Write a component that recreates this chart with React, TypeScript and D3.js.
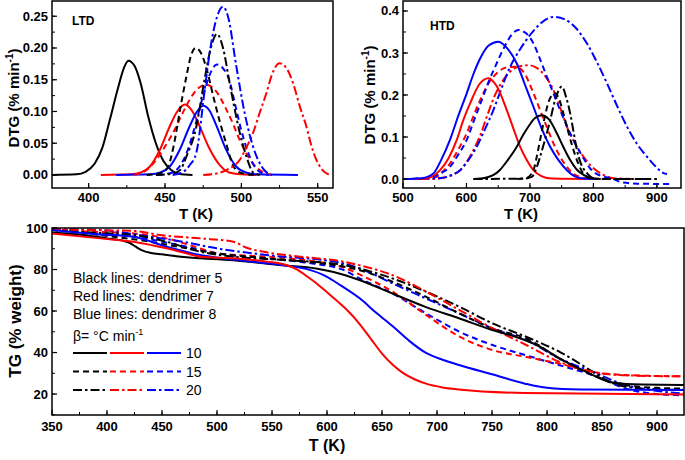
import React from "react";
import * as d3 from "d3";

type P = [number, number];

// ---------------- LTD (top-left) DTG data: [T (K), DTG] ----------------
const ltdBlack10: P[] = [[376,0],[392,0.001],[398,0.005],[404,0.018],[409,0.043],[414,0.088],[419,0.135],[423,0.168],[426,0.18],[430,0.172],[434,0.145],[439,0.092],[444,0.05],[449,0.022],[454,0.008],[459,0.002],[468,0]];
const ltdRed10: P[] = [[408,0],[428,0.001],[434,0.004],[440,0.013],[446.5,0.039],[453,0.076],[458,0.1],[463,0.111],[468,0.1],[473,0.075],[479,0.042],[486,0.015],[492,0.004],[500,0.001],[510,0]];
const ltdBlue10: P[] = [[418,0],[440,0.001],[447,0.004],[453,0.013],[459.5,0.039],[466,0.076],[471,0.1],[475,0.109],[479,0.102],[483.6,0.078],[490,0.04],[496.7,0.013],[503,0.004],[510,0.001],[537,0]];
const ltdBlack15: P[] = [[438,0],[447,0.003],[452,0.013],[456,0.05],[460,0.105],[464,0.155],[467,0.188],[470,0.2],[474,0.19],[478,0.16],[482,0.12],[486,0.083],[490,0.05],[494,0.018],[498,0.005],[504,0.001],[511,0]];
const ltdRed15: P[] = [[430,0],[438,0.008],[444.3,0.024],[450,0.045],[455.2,0.066],[461,0.095],[466,0.118],[471,0.135],[477,0.142],[484,0.13],[490.2,0.103],[495,0.078],[498.9,0.055],[503,0.035],[507.6,0.018],[513,0.006],[520,0]];
const ltdBlue15: P[] = [[445,0],[455,0.004],[460,0.015],[465,0.04],[470,0.08],[475,0.125],[480,0.162],[484,0.174],[488,0.168],[492,0.15],[496,0.11],[500,0.07],[504,0.038],[508,0.016],[512,0.005],[518,0]];
const ltdBlack20: P[] = [[444,0],[455,0.002],[460,0.008],[464,0.029],[470.5,0.076],[475.5,0.145],[480,0.2],[484,0.222],[488,0.2],[492.3,0.145],[499,0.066],[503.3,0.029],[507.7,0.004],[512,0]];
const ltdRed20: P[] = [[475,0],[485,0.003],[492,0.01],[499,0.024],[503,0.042],[507.6,0.066],[512,0.098],[516.4,0.129],[520,0.158],[525,0.176],[529,0.17],[533.8,0.145],[538,0.11],[542.6,0.076],[546,0.045],[549.1,0.024],[553,0.008],[558,0]];
const ltdBlue20: P[] = [[455,0],[462,0.005],[466,0.015],[470.5,0.035],[476,0.134],[479.2,0.192],[483,0.24],[488,0.265],[491.2,0.25],[496.7,0.171],[502.2,0.097],[507.6,0.045],[514.2,0.01],[520,0]];

// ---------------- HTD (top-right) DTG data ----------------
const htdRed10: P[] = [[500,0],[530,0],[545,0.005],[558.4,0.021],[572,0.05],[584.7,0.093],[595,0.14],[605.7,0.18],[620,0.225],[634.6,0.24],[648,0.22],[663.5,0.164],[674,0.12],[684.5,0.077],[695,0.045],[705.5,0.021],[718,0.007],[735,0.001],[800,0]];
const htdBlue10: P[] = [[500,0],[530,0.002],[547.8,0.013],[560,0.045],[574,0.093],[587,0.15],[600.4,0.204],[611,0.25],[621.5,0.287],[635,0.318],[650.4,0.327],[665,0.31],[679.3,0.275],[692,0.225],[705.5,0.172],[718,0.122],[731.9,0.077],[745,0.045],[758.2,0.021],[770,0.007],[785,0.001],[810,0]];
const htdBlack10: P[] = [[611,0],[630,0.003],[642,0.009],[652.3,0.021],[665,0.045],[679.3,0.077],[689,0.104],[697.7,0.125],[708,0.145],[718.7,0.152],[730,0.142],[742.4,0.109],[753,0.075],[763.4,0.045],[774,0.022],[784.5,0.01],[795,0.003],[810,0]];
const htdRed15: P[] = [[500,0],[540,0.001],[553,0.005],[563,0.018],[574,0.037],[587,0.07],[600.4,0.109],[611,0.15],[621.5,0.188],[635,0.228],[650,0.255],[665,0.266],[679,0.267],[692,0.25],[704,0.21],[716,0.164],[727,0.122],[737,0.085],[748,0.052],[758.2,0.029],[768,0.013],[779,0.005],[795,0.001],[850,0]];
const htdBlue15: P[] = [[500,0],[535,0.002],[548,0.005],[561,0.015],[574,0.029],[587,0.058],[600.4,0.093],[612,0.14],[624.1,0.188],[635,0.232],[645.1,0.267],[660,0.315],[672,0.345],[682,0.355],[693,0.348],[705.5,0.323],[716,0.285],[726.6,0.244],[737,0.204],[747.6,0.164],[760,0.12],[774,0.077],[785,0.048],[795,0.025],[805,0.012],[816,0.006],[830,0.001],[845,-0.008],[870,-0.011],[925,-0.012]];
const htdBlack15: P[] = [[680,0],[695,0.003],[705.5,0.021],[711,0.055],[716,0.093],[723,0.145],[731,0.19],[739.7,0.204],[746,0.19],[752,0.16],[758.2,0.125],[766,0.082],[774,0.045],[782,0.018],[790,0.005],[800,0],[892,0]];
const htdRed20: P[] = [[500,0],[545,0],[563.6,0.003],[577,0.009],[590,0.021],[600,0.04],[611,0.069],[622,0.105],[632,0.148],[645,0.2],[660,0.24],[675,0.263],[690,0.27],[697.7,0.271],[710,0.265],[724,0.245],[737,0.212],[748,0.168],[758.2,0.125],[771,0.085],[784.5,0.053],[797,0.03],[810.7,0.014],[831.7,0.002],[860,0]];
const htdBlue20: P[] = [[500,0],[540,0.001],[563.6,0.003],[577,0.01],[590,0.021],[603,0.045],[616.2,0.077],[629,0.118],[642.4,0.164],[655,0.215],[668.8,0.267],[685,0.31],[700.3,0.343],[718,0.372],[737,0.386],[755,0.38],[772,0.36],[789.7,0.323],[805,0.28],[821.3,0.228],[837,0.175],[852.8,0.125],[868,0.085],[884.4,0.053],[898,0.03],[910.6,0.014],[916,0.012]];
const htdBlack20: P[] = [[611,0],[690,0.001],[703,0.005],[710,0.025],[716,0.053],[724,0.095],[731.9,0.14],[740,0.19],[750.2,0.22],[757,0.195],[763.4,0.156],[769,0.11],[774,0.069],[780,0.038],[789.7,0.014],[797,0.004],[805,0],[900,0]];

// ---------------- TG (bottom) data: [T (K), % weight] ----------------
const tgBlack10: P[] = [[350,97.8],[380,96.5],[400,95.0],[415,93.8],[420,93.0],[426,91.0],[432,89.2],[440,88.0],[450,87.3],[470,86.0],[515,84.4],[560,82.0],[590,80.5],[606,78.8],[630,74.8],[660,68.3],[690,61.9],[721,56.3],[751,50.7],[772,47.5],[791,43.5],[812,37.0],[836,30.6],[857,25.8],[878,24.7],[925,24.4]];
const tgRed10: P[] = [[350,97.4],[394,95.0],[424,93.4],[454,90.2],[472,87.8],[485,86.2],[515,85.4],[545,83.8],[563,82.2],[573,80],[581,77],[590,73.5],[600,69],[612,63.5],[620,59.5],[630,53.5],[640,46.5],[650,39.5],[660,34],[670,29.8],[680,27],[690,25],[705,23.2],[720,22.2],[780,20.5],[925,19.8]];
const tgBlue10: P[] = [[350,99.0],[390,97],[424,95.8],[454,91.0],[484.5,87.0],[515,84.8],[560,82.0],[581,80.3],[600,76.5],[612,72.5],[630,66],[645,59],[660,52.5],[675,45.5],[690,39.8],[705,36.5],[720,34],[750,29.5],[780,25],[800,23],[830,22.2],[925,21.9]];
const tgBlack15: P[] = [[350,99],[393.6,96.6],[439,93.4],[472.4,90.2],[499.7,87.8],[545,85.4],[585,83.5],[614.8,81.4],[630,79.6],[660,74.0],[690.6,66.7],[720.9,58.7],[751,51.5],[781.5,46.7],[811.8,37.0],[842,29.0],[872,24.2],[900,23],[925,22.6]];
const tgRed15: P[] = [[350,99],[390,98.2],[424,97.4],[454,95],[484.5,90.2],[500,87.8],[545,86.2],[585,84.2],[614.8,81],[630,77.5],[660,69.2],[690.6,57.9],[720.9,47.5],[751,41.1],[781.5,37.8],[811.8,34.6],[842,30.6],[870,29.2],[925,28.5]];
const tgBlue15: P[] = [[350,99.5],[390,97.5],[424,95.8],[472.4,91],[499.7,87.8],[545,85.4],[585,83],[614.8,79.8],[630,75.6],[660,68.3],[690.6,58.7],[720.9,49.9],[751,43.5],[781.5,38.6],[811.8,33.8],[842,29.0],[872,22.6],[900,20],[925,19.4]];
const tgBlack20: P[] = [[350,99.5],[380,98],[424,96.6],[454,93.4],[484.5,88.6],[514.8,86.2],[560,84.6],[614.8,82.2],[630,80.4],[660,75.6],[690.6,69.2],[720.9,61.9],[751,53.9],[781.5,47.5],[811.8,40.2],[842,30.6],[857,25.8],[887,22.6],[925,22]];
const tgRed20: P[] = [[350,99.5],[380,99],[424,98.6],[448,96.6],[484.5,95.0],[514.8,93.4],[527,90.5],[545,88.3],[575.5,86.2],[614.8,83.8],[630,82.0],[660,77.2],[690.6,69.2],[720.9,60.3],[751,51.5],[781.5,43.5],[811.8,35.4],[842,30.6],[872,29.0],[925,28.5]];
const tgBlue20: P[] = [[350,99.5],[393.6,99],[439,95.8],[469,93.4],[499.7,90.2],[545,87],[614.8,83],[630,80.5],[660,73.2],[690.6,65.9],[720.9,58.7],[751,51.5],[781.5,45.9],[811.8,37.0],[842,30.6],[872,24.2],[900,21.5],[925,20.2]];

// ---------------- ticks ----------------
const ltdXTicks = [400, 450, 500, 550];
const ltdYTicks = [0, 0.05, 0.1, 0.15, 0.2, 0.25];
const htdXTicks = [500, 600, 700, 800, 900];
const htdYTicks = [0, 0.1, 0.2, 0.3, 0.4];
const tgXTicks = [350, 400, 450, 500, 550, 600, 650, 700, 750, 800, 850, 900];
const tgYTicks = [20, 40, 60, 80, 100];

const legendLines = ["Black lines: dendrimer 5", "Red lines: dendrimer 7", "Blue lines: dendrimer 8"];
const legendRates = ["10", "15", "20"];

const BLACK = "#000000";
const RED = "#ff0000";
const BLUE = "#0000ff";
const SOLID = "none";
const DASH = "6,4";
const DASHDOT = "9,3,2.5,3";
const FONT = "'Liberation Sans', Arial, Helvetica, sans-serif";

type Series = { data: P[]; color: string; dash: string };

const ltdSeries: Series[] = [
  { data: ltdBlack10, color: BLACK, dash: SOLID },
  { data: ltdRed10, color: RED, dash: SOLID },
  { data: ltdBlue10, color: BLUE, dash: SOLID },
  { data: ltdRed15, color: RED, dash: DASH },
  { data: ltdBlack15, color: BLACK, dash: DASH },
  { data: ltdBlue15, color: BLUE, dash: DASH },
  { data: ltdBlack20, color: BLACK, dash: DASHDOT },
  { data: ltdRed20, color: RED, dash: DASHDOT },
  { data: ltdBlue20, color: BLUE, dash: DASHDOT },
];
const htdSeries: Series[] = [
  { data: htdRed15, color: RED, dash: DASH },
  { data: htdRed20, color: RED, dash: DASHDOT },
  { data: htdBlue20, color: BLUE, dash: DASHDOT },
  { data: htdBlue15, color: BLUE, dash: DASH },
  { data: htdRed10, color: RED, dash: SOLID },
  { data: htdBlue10, color: BLUE, dash: SOLID },
  { data: htdBlack10, color: BLACK, dash: SOLID },
  { data: htdBlack15, color: BLACK, dash: DASH },
  { data: htdBlack20, color: BLACK, dash: DASHDOT },
];
const tgSeries: Series[] = [
  { data: tgBlue15, color: BLUE, dash: DASH },
  { data: tgRed15, color: RED, dash: DASH },
  { data: tgBlue20, color: BLUE, dash: DASHDOT },
  { data: tgBlack15, color: BLACK, dash: DASH },
  { data: tgBlack20, color: BLACK, dash: DASHDOT },
  { data: tgRed20, color: RED, dash: DASHDOT },
  { data: tgBlack10, color: BLACK, dash: SOLID },
  { data: tgBlue10, color: BLUE, dash: SOLID },
  { data: tgRed10, color: RED, dash: SOLID },
];

type PanelProps = {
  id: string;
  left: number; right: number; top: number; bottom: number;
  xDomain: [number, number]; yDomain: [number, number];
  xTicks: number[]; yTicks: number[];
  xMinorStep: number; yMinorStep: number;
  yFmt: (v: number) => string;
  series: Series[];
  xLabelDy: number;
};

function Panel(p: PanelProps) {
  const xs = d3.scaleLinear().domain(p.xDomain).range([p.left, p.right]);
  const ys = d3.scaleLinear().domain(p.yDomain).range([p.bottom, p.top]);
  const line = d3.line<P>().x((d) => xs(d[0])).y((d) => ys(d[1])).curve(d3.curveMonotoneX);
  const xMinor = d3.range(p.xTicks[0] - p.xMinorStep * 4, p.xDomain[1] + 1e-9, p.xMinorStep)
    .filter((v) => v > p.xDomain[0] && v < p.xDomain[1]);
  const yMinor = d3.range(p.yTicks[0] - p.yMinorStep * 4, p.yDomain[1] + 1e-9, p.yMinorStep)
    .filter((v) => v > p.yDomain[0] && v < p.yDomain[1]);
  return (
    <g>
      <defs>
        <clipPath id={p.id}>
          <rect x={p.left} y={p.top} width={p.right - p.left} height={p.bottom - p.top} />
        </clipPath>
      </defs>
      <g clipPath={`url(#${p.id})`}>
        {p.series.map((s, i) => (
          <path key={i} d={line(s.data) || ""} fill="none" stroke={s.color} strokeWidth={2}
            strokeDasharray={s.dash === SOLID ? undefined : s.dash} strokeLinejoin="round" />
        ))}
      </g>
      {xMinor.map((v, i) => (
        <line key={"xm" + i} x1={xs(v)} x2={xs(v)} y1={p.bottom} y2={p.bottom - 3} stroke="#000" strokeWidth={1} />
      ))}
      {yMinor.map((v, i) => (
        <line key={"ym" + i} x1={p.left} x2={p.left + 3} y1={ys(v)} y2={ys(v)} stroke="#000" strokeWidth={1} />
      ))}
      {p.xTicks.map((v, i) => (
        <g key={"xt" + i}>
          <line x1={xs(v)} x2={xs(v)} y1={p.bottom} y2={p.bottom - 5} stroke="#000" strokeWidth={1.2} />
          <text x={xs(v)} y={p.bottom + p.xLabelDy} textAnchor="middle" fontFamily={FONT} fontWeight="bold" fontSize={13}>{v}</text>
        </g>
      ))}
      {p.yTicks.map((v, i) => (
        <g key={"yt" + i}>
          <line x1={p.left} x2={p.left + 5} y1={ys(v)} y2={ys(v)} stroke="#000" strokeWidth={1.2} />
          <text x={p.left - 4} y={ys(v) + 4.5} textAnchor="end" fontFamily={FONT} fontWeight="bold" fontSize={13}>{p.yFmt(v)}</text>
        </g>
      ))}
      <rect x={p.left} y={p.top} width={p.right - p.left} height={p.bottom - p.top} fill="none" stroke="#000" strokeWidth={1.5} />
    </g>
  );
}

export default function App() {
  const f2 = d3.format(".2f");
  const f1 = d3.format(".1f");
  const f0 = d3.format("d");
  const legendStyles = [SOLID, DASH, DASHDOT];
  const legendColors = [BLACK, RED, BLUE];
  return (
    <svg width={685} height={460} style={{ position: "absolute", left: 0, top: 0, background: "#fff" }}>
      <rect x={0} y={0} width={685} height={460} fill="#fff" />
      <Panel id="c1" left={52} right={333} top={1} bottom={188}
        xDomain={[376, 560]} yDomain={[-0.0205, 0.274]}
        xTicks={ltdXTicks} yTicks={ltdYTicks} xMinorStep={25} yMinorStep={0.025}
        yFmt={f2} series={ltdSeries} xLabelDy={14} />
      <Panel id="c2" left={403} right={681} top={1} bottom={188}
        xDomain={[500, 938]} yDomain={[-0.0214, 0.4238]}
        xTicks={htdXTicks} yTicks={htdYTicks} xMinorStep={50} yMinorStep={0.05}
        yFmt={f1} series={htdSeries} xLabelDy={14} />
      <Panel id="c3" left={52} right={684} top={228} bottom={415}
        xDomain={[350, 924.5]} yDomain={[9.9, 100]}
        xTicks={tgXTicks} yTicks={tgYTicks} xMinorStep={25} yMinorStep={10}
        yFmt={f0} series={tgSeries} xLabelDy={16} />

      {/* panel tags */}
      <text x={72} y={25} fontFamily={FONT} fontWeight="bold" fontSize={12}>LTD</text>
      <text x={430} y={30} fontFamily={FONT} fontWeight="bold" fontSize={12}>HTD</text>

      {/* axis titles */}
      <text x={196} y={219} textAnchor="middle" fontFamily={FONT} fontWeight="bold" fontSize={15}>T (K)</text>
      <text x={521} y={219} textAnchor="middle" fontFamily={FONT} fontWeight="bold" fontSize={15}>T (K)</text>
      <text x={327} y={451} textAnchor="middle" fontFamily={FONT} fontWeight="bold" fontSize={16}>T (K)</text>
      <text transform="translate(19,98) rotate(-90)" textAnchor="middle" fontFamily={FONT} fontWeight="bold" fontSize={15}>
        DTG (% min<tspan dy={-6} fontSize={10}>-1</tspan><tspan dy={6}>)</tspan>
      </text>
      <text transform="translate(375,95) rotate(-90)" textAnchor="middle" fontFamily={FONT} fontWeight="bold" fontSize={15}>
        DTG (% min<tspan dy={-6} fontSize={10}>-1</tspan><tspan dy={6}>)</tspan>
      </text>
      <text transform="translate(21,321) rotate(-90)" textAnchor="middle" fontFamily={FONT} fontWeight="bold" fontSize={17}>TG (% weight)</text>

      {/* legend */}
      {legendLines.map((t, i) => (
        <text key={"lg" + i} x={73} y={283 + i * 18} fontFamily={FONT} fontSize={14}>{t}</text>
      ))}
      <text x={73} y={341} fontFamily={FONT} fontSize={14}>
        β= °C min<tspan dy={-6} fontSize={9}>-1</tspan>
      </text>
      {legendRates.map((r, i) => (
        <g key={"lr" + i}>
          {legendColors.map((c, j) => (
            <line key={j} x1={73 + j * 37} x2={107 + j * 37} y1={353 + i * 18.5} y2={353 + i * 18.5}
              stroke={c} strokeWidth={2} strokeDasharray={legendStyles[i] === SOLID ? undefined : legendStyles[i]} />
          ))}
          <text x={186} y={358 + i * 18.5} fontFamily={FONT} fontSize={14}>{r}</text>
        </g>
      ))}
    </svg>
  );
}
